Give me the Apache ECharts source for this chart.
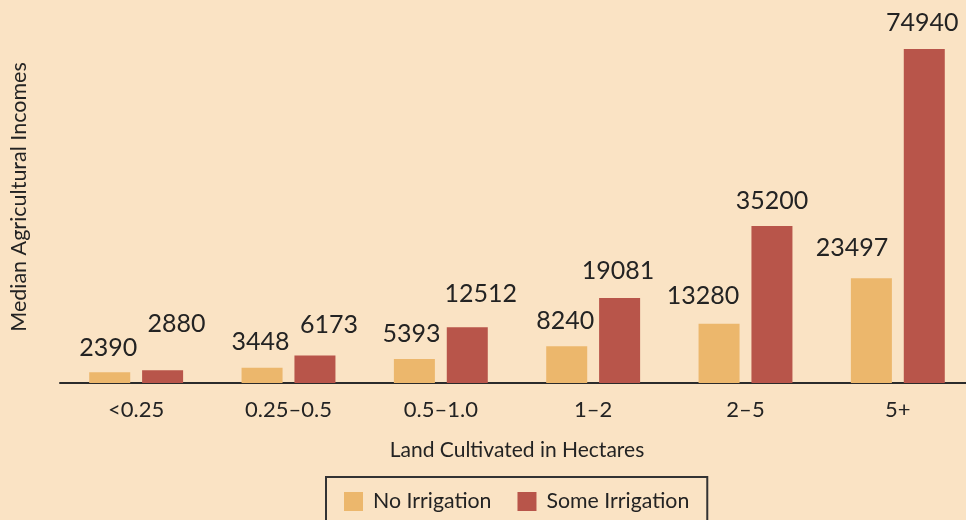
<!DOCTYPE html>
<html>
<head>
<meta charset="utf-8">
<script src="https://cdn.jsdelivr.net/npm/echarts@6/dist/echarts.min.js"></script>
<style>
html,body{margin:0;padding:0;background:#FAE3C4;overflow:hidden;}
#chart{width:975px;height:520px;}
</style>
</head>
<body>
<div id="chart"></div>
<script>
// ---- data ----
const categories = ['<0.25', '0.25\u20130.5', '0.5\u20131.0', '1\u20132', '2\u20135', '5+'];
const seriesNames = ['No Irrigation', 'Some Irrigation'];
const noIrrigation = [2390, 3448, 5393, 8240, 13280, 23497];
const someIrrigation = [2880, 6173, 12512, 19081, 35200, 74940];

// ---- label nudges (layout only) ----
const noNudge = [[-1.5, 1], [-1.5, 0], [-3, 0], [-1.5, 0], [-16, -2.5], [-19.5, -5]];
const someNudge = [[14, -21], [14, -5], [13.5, -8], [-1.5, -1.5], [0, 0], [-2, -0.5]];

const FONT = 'Lato';
const TXT = '#232323';

function buildData(values, nudges) {
  return values.map((v, i) => ({ value: v, label: { offset: nudges[i] } }));
}

const chart = echarts.init(document.getElementById('chart'));
chart.setOption({
  backgroundColor: '#FAE3C4',
  animation: false,
  textStyle: { fontFamily: FONT, color: TXT },
  grid: { left: 60, top: 49, width: 914, height: 334, containLabel: false },
  legend: {
    data: seriesNames,
    left: 326,
    top: 477,
    orient: 'horizontal',
    itemWidth: 19,
    itemHeight: 19,
    itemGap: 26,
    padding: [14, 18, 22, 18],
    borderColor: '#333',
    borderWidth: 2,
    icon: 'rect',
    textStyle: { fontFamily: FONT, fontSize: 21.3, color: TXT, padding: [0, 0, 0, 5] }
  },
  xAxis: {
    type: 'category',
    data: categories,
    axisLine: { show: true, lineStyle: { color: '#2b2b2b', width: 2 } },
    axisTick: { show: false },
    axisLabel: { fontFamily: FONT, fontSize: 22, color: TXT, margin: 16 },
    name: 'Land Cultivated in Hectares',
    nameLocation: 'middle',
    nameGap: 57,
    nameTextStyle: { fontFamily: FONT, fontSize: 21, color: TXT }
  },
  yAxis: {
    type: 'value',
    min: 0,
    max: 74940,
    show: false
  },
  graphic: [{
    type: 'text',
    x: 19,
    y: 197,
    rotation: Math.PI / 2,
    style: {
      text: 'Median Agricultural Incomes',
      fontFamily: FONT,
      fontSize: 21.5,
      fill: TXT,
      align: 'center',
      verticalAlign: 'middle'
    }
  }],
  series: [
    {
      name: seriesNames[0],
      type: 'bar',
      barWidth: 41,
      barGap: '29%',
      itemStyle: { color: '#ECB76C' },
      label: { show: true, position: 'top', distance: 13, fontFamily: FONT, fontSize: 25, color: TXT },
      data: buildData(noIrrigation, noNudge)
    },
    {
      name: seriesNames[1],
      type: 'bar',
      barWidth: 41,
      barGap: '29%',
      itemStyle: { color: '#B8554A' },
      label: { show: true, position: 'top', distance: 13, fontFamily: FONT, fontSize: 25, color: TXT },
      data: buildData(someIrrigation, someNudge)
    }
  ]
});
</script>
</body>
</html>
